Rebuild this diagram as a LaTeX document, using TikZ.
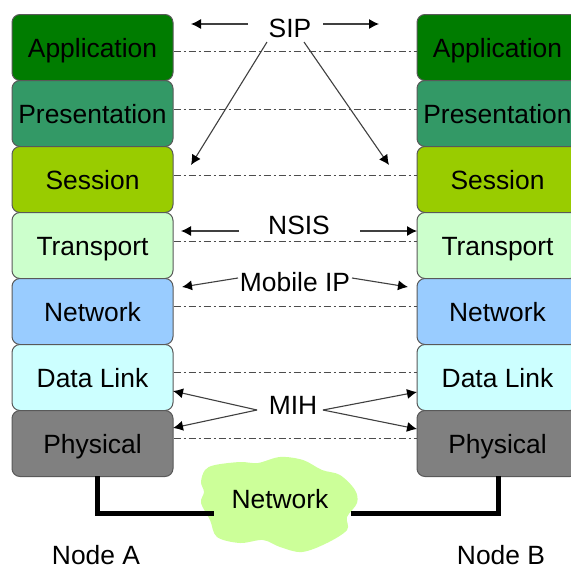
\documentclass[tikz,border=0pt]{standalone}
\usepackage{fontspec}
\setmainfont{Liberation Sans}
\usetikzlibrary{arrows.meta}
\definecolor{cApp}{HTML}{007C00}
\definecolor{cPre}{HTML}{339966}
\definecolor{cSes}{HTML}{99CC00}
\definecolor{cTra}{HTML}{CCFFCC}
\definecolor{cNet}{HTML}{99CCFF}
\definecolor{cDat}{HTML}{CCFFFF}
\definecolor{cPhy}{HTML}{808080}
\definecolor{cCloud}{HTML}{CCFF99}
\tikzset{
  txt/.style={font=\fontsize{26.4}{30}\selectfont,text=black,inner sep=0pt},
  layer/.style={txt,draw=black!65,line width=1pt,rounded corners=8pt,minimum width=161pt,minimum height=66pt,text height=20pt,text depth=0pt,anchor=north west},
  peer/.style={draw=black!70,line width=1pt,dash pattern=on 7pt off 3pt on 2pt off 3pt},
  arr/.style={draw=black!75,line width=1.1pt,-{Latex[length=10pt,width=10pt,black]}},
  wire/.style={draw=black,line width=5pt,line join=miter}
}
\begin{document}
\begin{tikzpicture}[x=1pt,y=-1pt]
\clip (0,0) rectangle (571,565);
\fill[white] (0,0) rectangle (571,565);
% cloud
\fill[cCloud] plot[smooth cycle,tension=0.55] coordinates {
 (215,465) (240,462) (258,463) (280,457) (303,460) (322,470) (340,475) (355,490) (357,503)
 (347,517) (347,530) (327,543) (302,552) (280,547) (263,540) (240,543) (217,537) (210,520)
 (201,503) (204,492) (201,482) (205,470)};
% layers
\foreach \n/\y/\c/\t in {1/14/cApp/Application,2/80/cPre/Presentation,3/146/cSes/Session,4/212/cTra/Transport,5/278/cNet/Network,6/344/cDat/Data Link,7/410/cPhy/Physical}{
  \node[layer,fill=\c] (L\n) at (11.5,\y) {\t};
  \node[layer,fill=\c] (R\n) at (416.5,\y) {\t};
}
% peer lines
\foreach \n/\s in {1/-4,2/4,3/4,4/4,5/5,6/5,7/5}{
  \draw[peer] ([yshift=\s pt]L\n.east) -- ([yshift=\s pt]R\n.west);
}
% labels
\node[txt] (sip) at (290,28) {SIP};
\node[txt] (nsis) at (299,225) {NSIS};
\node[txt] (mip) at (295,282) {Mobile IP};
\node[txt] (mih) at (293,405) {MIH};
\node[txt] (net) at (280,499) {Network};
\node[txt] (na) at (96,555) {Node A};
\node[txt] (nb) at (501,555) {Node B};
% free ends
\coordinate (a1) at (248,24); \coordinate (a1e) at (191,24);
\coordinate (a2) at (323,24); \coordinate (a2e) at (379,24);
\coordinate (a3) at (267,42); \coordinate (a3e) at (191,165);
\coordinate (a4) at (304,42); \coordinate (a4e) at (389,165);
\coordinate (b1) at (239,231); \coordinate (b1e) at (181,231);
\coordinate (b2) at (360,231); \coordinate (b2e) at (417,231);
\coordinate (c1) at (238,278); \coordinate (c1e) at (182,287);
\coordinate (c2) at (352,278); \coordinate (c2e) at (408,287);
\coordinate (d1) at (257,410); \coordinate (d1u) at (173,391); \coordinate (d1l) at (173,428);
\coordinate (d2) at (323,410); \coordinate (d2u) at (417,392); \coordinate (d2l) at (417,429);
\coordinate (wl) at (214,513); \coordinate (wr) at (351,513);
\coordinate (pl) at (97,476); \coordinate (pr) at (498,476);
\foreach \p/\q in {a1/a1e,a2/a2e,a3/a3e,a4/a4e,b1/b1e,b2/b2e,c1/c1e,c2/c2e,d1/d1u,d1/d1l,d2/d2u,d2/d2l}{
  \draw[arr] (\p) -- (\q);
}
% wires
\draw[wire] (pl) |- (wl);
\draw[wire] (pr) |- (wr);
\end{tikzpicture}
\end{document}
